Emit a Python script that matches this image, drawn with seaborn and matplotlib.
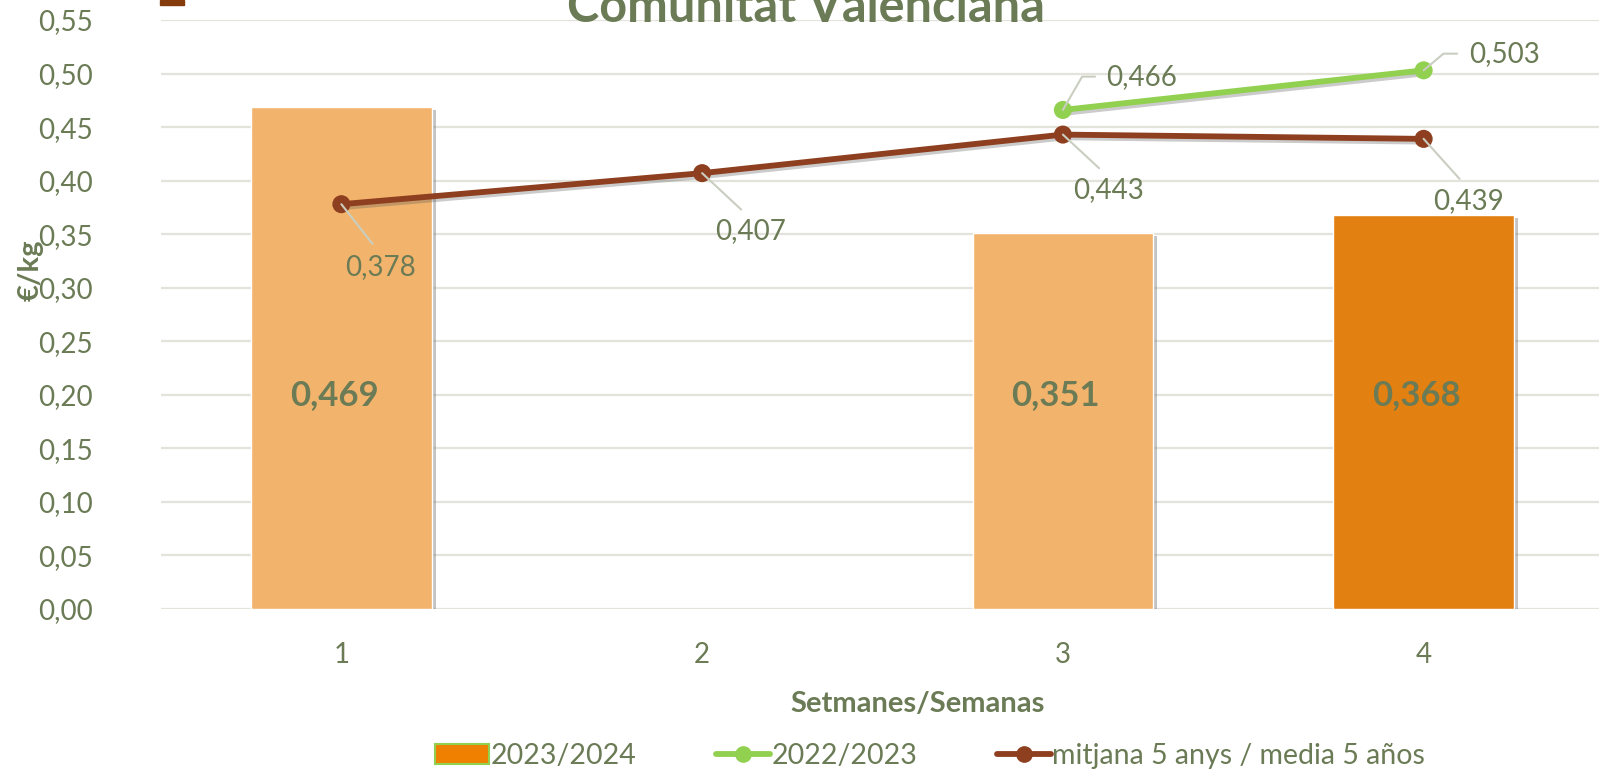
"""
Preu setmanal - Comunitat Valenciana
Barres 2023/2024 + línies 2022/2023 i mitjana 5 anys
"""
import numpy as np
import pandas as pd
import matplotlib
matplotlib.use("Agg")
import matplotlib.pyplot as plt
import matplotlib.patheffects as pe
from matplotlib.patches import Patch, Rectangle
from matplotlib.lines import Line2D
import seaborn as sns

# --- data ---
weeks = ["1", "2", "3", "4"]
bar_weeks = ["1", "3", "4"]
bar_values = [0.469, 0.351, 0.368]
bar_colors = ["#F2B46D", "#F2B46D", "#E38012"]

prev_weeks = ["3", "4"]
prev_values = [0.466, 0.503]

avg_weeks = ["1", "2", "3", "4"]
avg_values = [0.378, 0.407, 0.443, 0.439]

y_ticks = np.arange(0, 0.5501, 0.05)

# label offsets (points) for the line data labels
avg_offsets = [(28, -45), (35, -42), (33, -40), (32, -45)]
prev_offsets = [(57, 24), (58, 12)]
prev_angles = [60, 40]

TXT = "#6B7B55"
GREEN = "#92D050"
BROWN = "#8E3F1F"
GRID = "#E3E3DB"
LEADER = "#C9CEC0"

sns.set_theme(style="white")
plt.rcParams['font.family'] = ['Lato', 'DejaVu Sans']

fig = plt.figure(figsize=(15.99, 7.72), dpi=100)
ax = fig.add_axes([161 / 1599, 1 - 609 / 772, 1443 / 1599, 589 / 772])

df_bars = pd.DataFrame({"week": bar_weeks, "value": bar_values})
sns.barplot(data=df_bars, x="week", y="value", hue="week", order=weeks,
            palette=dict(zip(bar_weeks, bar_colors)), width=0.5,
            legend=False, ax=ax, saturation=1, zorder=2)
for bar in ax.patches:
    bar.set_path_effects([pe.withSimplePatchShadow(offset=(3, -2), shadow_rgbFace="#7a7a7a", alpha=0.45)])

pos = {w: i for i, w in enumerate(weeks)}
avg_x = [pos[w] for w in avg_weeks]
prev_x = [pos[w] for w in prev_weeks]

line_fx = [pe.SimpleLineShadow(offset=(2, -2), shadow_color="#555555", alpha=0.3), pe.Normal()]
sns.lineplot(x=avg_x, y=avg_values, color=BROWN, linewidth=4.2, marker="o",
             markersize=13, markeredgewidth=0, ax=ax, zorder=4)
sns.lineplot(x=prev_x, y=prev_values, color=GREEN, linewidth=4.2, marker="o",
             markersize=13, markeredgewidth=0, ax=ax, zorder=5)
for ln in ax.lines:
    ln.set_path_effects(line_fx)

# bar labels
for w, v in zip(bar_weeks, bar_values):
    ax.text(pos[w] - 0.02, 0.20, f"{v:.3f}".replace(".", ","), ha="center", va="center",
            fontsize=25, fontweight="bold", color=TXT, zorder=6)

# line labels with leader lines
for x, v, off in zip(avg_x, avg_values, avg_offsets):
    ax.annotate(f"{v:.3f}".replace(".", ","), xy=(x, v), xytext=off,
                textcoords="offset points", ha="center", va="center",
                fontsize=20, color=TXT, zorder=7,
                arrowprops=dict(arrowstyle="-", color=LEADER, lw=1.5,
                                relpos=(0.5, 1.0), shrinkA=6, shrinkB=0))
for x, v, off, ang in zip(prev_x, prev_values, prev_offsets, prev_angles):
    ax.annotate(f"{v:.3f}".replace(".", ","), xy=(x, v), xytext=off,
                textcoords="offset points", ha="center", va="center",
                fontsize=20, color=TXT, zorder=7,
                arrowprops=dict(arrowstyle="-", color=LEADER, lw=1.5,
                                relpos=(0.0, 0.5), shrinkA=6, shrinkB=0,
                                connectionstyle=f"angle,angleA=0,angleB={ang},rad=0"))

ax.set_xlim(-0.5, 3.5)
ax.set_ylim(0, 0.55)
ax.set_yticks(y_ticks)
ax.set_yticklabels([f"{t:.2f}".replace(".", ",") for t in y_ticks])
ax.yaxis.grid(True, color=GRID, linewidth=1.6, zorder=0)
ax.set_axisbelow(True)
for s in ax.spines.values():
    s.set_visible(False)
ax.tick_params(axis="both", length=0, labelsize=20, labelcolor=TXT)
ax.tick_params(axis="y", pad=49)
ax.tick_params(axis="x", pad=24)
ax.set_xlabel("Setmanes/Semanas", fontsize=21, fontweight="bold", color=TXT)
ax.xaxis.set_label_coords((918 - 161) / 1443, (609 - 704) / 589)
ax.xaxis.label.set_va("center")
ax.set_ylabel("")
fig.text(31 / 1599, 1 - 270 / 772, "€/kg", rotation=90, ha="center", va="center",
         fontsize=21, fontweight="bold", color=TXT)

# title (cut at the top in the original)
fig.text(806 / 1599, 1 - 22 / 772, "Comunitat Valenciana", ha="center", va="baseline",
         fontsize=35, fontweight="bold", color=TXT)
fig.add_artist(Rectangle((160 / 1599, 1 - 5 / 772), 24 / 1599, 5 / 772,
                         transform=fig.transFigure, color="#843C0C"))

handles = [
    Patch(facecolor="#F08000", edgecolor=GREEN, linewidth=1.5),
    Line2D([0], [0], color=GREEN, lw=4.2, marker="o", markersize=11),
    Line2D([0], [0], color=BROWN, lw=4.2, marker="o", markersize=11),
]
labels = ["2023/2024", "2022/2023", "mitjana 5 anys / media 5 años"]
leg = fig.legend(handles, labels, loc="center", bbox_to_anchor=(930 / 1599, 1 - 756 / 772),
                 ncol=3, frameon=False, fontsize=20.5, handlelength=1.9, handletextpad=0.05,
                 columnspacing=2.8, labelcolor=TXT)

fig.savefig("out.png", dpi=100)
